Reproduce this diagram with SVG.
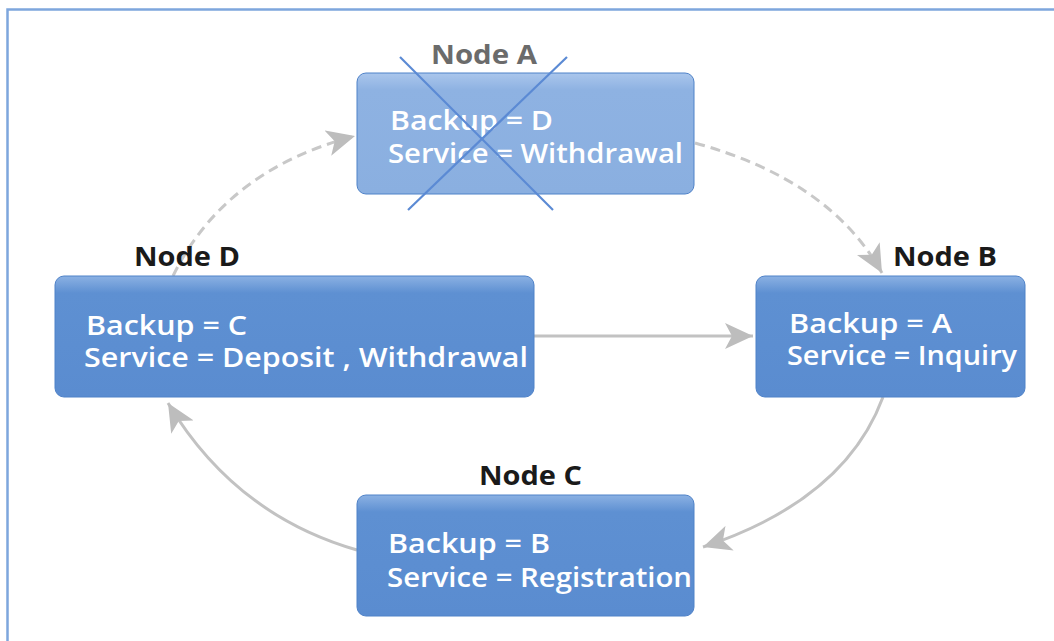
<svg xmlns="http://www.w3.org/2000/svg" width="1054" height="641" viewBox="0 0 1054 641">
  <style>
    .box { stroke: #4f82c8; stroke-width: 1; }
    .label { font-family: "Open Sans", "Noto Sans", sans-serif; font-weight: bold; font-size: 27px; fill: #1a1a1a; }
    .label-off { fill: #6b6b6b; }
    .body { font-family: "Open Sans", "Noto Sans", sans-serif; font-weight: 600; font-size: 27px; fill: #ffffff; }
    .link { fill: none; stroke: #c2c2c2; stroke-width: 3; }
    .dash { stroke: #c8c8c8; stroke-dasharray: 10 6; }
    .cross { stroke: #5b8ad4; stroke-width: 2.2; }
  </style>
  <defs>
    <linearGradient id="nodeFill" x1="0" y1="0" x2="0" y2="1">
      <stop offset="0" stop-color="#8bb1e3"/>
      <stop offset="0.14" stop-color="#5e90d2"/>
      <stop offset="1" stop-color="#5a8cd0"/>
    </linearGradient>
    <linearGradient id="nodeFillOff" x1="0" y1="0" x2="0" y2="1">
      <stop offset="0" stop-color="#aac6ec"/>
      <stop offset="0.14" stop-color="#8eb2e2"/>
      <stop offset="1" stop-color="#8aafe0"/>
    </linearGradient>
    <marker id="arrow" markerUnits="userSpaceOnUse" markerWidth="30" markerHeight="26" viewBox="0 0 30 26" refX="28" refY="13" orient="auto">
      <path d="M0,0 L28,13 L0,26 L7,13 Z" fill="#bdbdbd"/>
    </marker>
  </defs>

  <!-- frame -->
  <path d="M7.5 641 V9.5 H1054" fill="none" stroke="#7ea6dd" stroke-width="2.5"/>

  <!-- connectors -->
  <g id="connectors">
    <path class="link dash" d="M173 276 Q225 170 355 136" marker-end="url(#arrow)"/>
    <path class="link dash" d="M695 143 Q830 180 882 273" marker-end="url(#arrow)"/>
    <path class="link" d="M534 336 L753 336" marker-end="url(#arrow)"/>
    <path class="link" d="M883 397 Q845 500 703 547" marker-end="url(#arrow)"/>
    <path class="link" d="M357 550 Q235 515 168 403" marker-end="url(#arrow)"/>
  </g>

  <!-- Node A (failed) -->
  <g id="node-a">
    <rect class="box" x="357" y="73" width="337" height="121" rx="9" fill="url(#nodeFillOff)" stroke="#7fa5db"/>
    <text class="label label-off" x="431" y="64" textLength="106" lengthAdjust="spacingAndGlyphs">Node A</text>
    <text class="body" x="390" y="130" textLength="163" lengthAdjust="spacingAndGlyphs">Backup = D</text>
    <text class="body" x="388" y="163" textLength="295" lengthAdjust="spacingAndGlyphs">Service = Withdrawal</text>
    <line class="cross" x1="400" y1="57" x2="553" y2="210"/>
    <line class="cross" x1="567" y1="57" x2="408" y2="210"/>
  </g>

  <!-- Node B -->
  <g id="node-b">
    <rect class="box" x="756" y="276" width="269" height="121" rx="9" fill="url(#nodeFill)"/>
    <text class="label" x="893" y="266" textLength="104" lengthAdjust="spacingAndGlyphs">Node B</text>
    <text class="body" x="789" y="333" textLength="163" lengthAdjust="spacingAndGlyphs">Backup = A</text>
    <text class="body" x="787" y="365" textLength="230" lengthAdjust="spacingAndGlyphs">Service = Inquiry</text>
  </g>

  <!-- Node C -->
  <g id="node-c">
    <rect class="box" x="357" y="495" width="337" height="121" rx="9" fill="url(#nodeFill)"/>
    <text class="label" x="479" y="485" textLength="103" lengthAdjust="spacingAndGlyphs">Node C</text>
    <text class="body" x="388" y="553" textLength="162" lengthAdjust="spacingAndGlyphs">Backup = B</text>
    <text class="body" x="387" y="587" textLength="305" lengthAdjust="spacingAndGlyphs">Service = Registration</text>
  </g>

  <!-- Node D -->
  <g id="node-d">
    <rect class="box" x="55" y="276" width="479" height="121" rx="9" fill="url(#nodeFill)"/>
    <text class="label" x="134" y="266" textLength="106" lengthAdjust="spacingAndGlyphs">Node D</text>
    <text class="body" x="86" y="335" textLength="161" lengthAdjust="spacingAndGlyphs">Backup = C</text>
    <text class="body" x="84" y="367" textLength="444" lengthAdjust="spacingAndGlyphs">Service = Deposit , Withdrawal</text>
  </g>
</svg>
